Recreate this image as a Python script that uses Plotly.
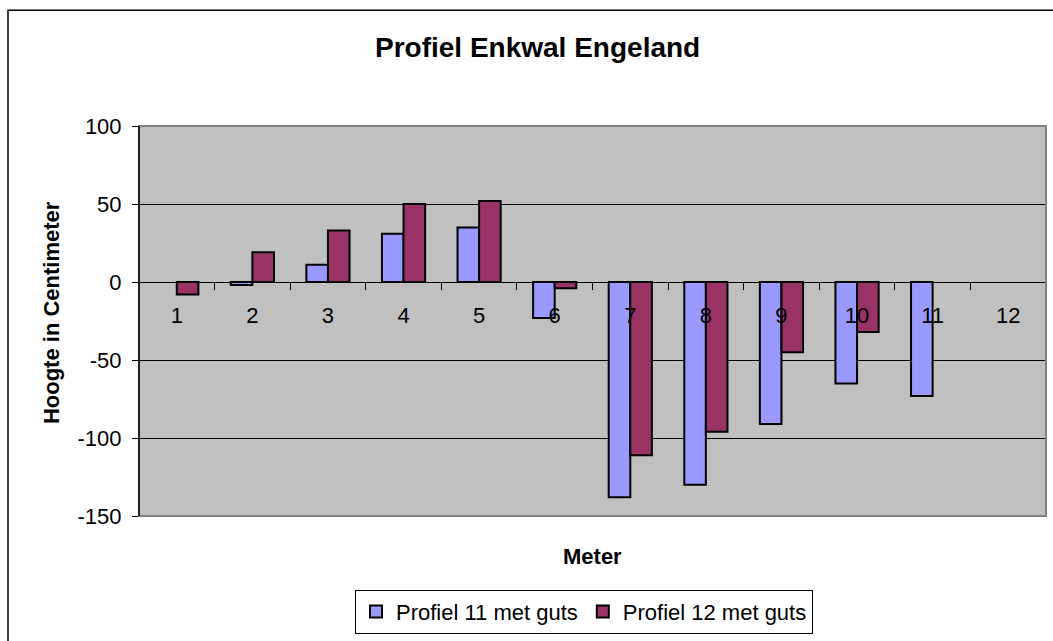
import plotly.graph_objects as go

categories = ["1", "2", "3", "4", "5", "6", "7", "8", "9", "10", "11", "12"]
profiel_11 = [None, -2, 11, 31, 35, -23, -138, -130, -91, -65, -73, None]
profiel_12 = [-8, 19, 33, 50, 52, -4, -111, -96, -45, -32, None, None]
y_ticks = [-150, -100, -50, 0, 50, 100]
y_tick_labels = ["-150", "-100", "-50", "0", "50", "100"]

W, H = 1053, 641
L, R, T, B = 139, 1046, 126, 520
FONT = "Liberation Sans, Arial, sans-serif"


def px(x):
    return (x - L) / (R - L)


def py(y):
    return (B - y) / (B - T)


fig = go.Figure()
fig.add_trace(go.Bar(
    x=categories, y=profiel_11, name="Profiel 11 met guts",
    marker=dict(color="#9999FF", line=dict(color="black", width=2)),
))
fig.add_trace(go.Bar(
    x=categories, y=profiel_12, name="Profiel 12 met guts",
    marker=dict(color="#993366", line=dict(color="black", width=2)),
))

fig.update_layout(
    width=W, height=H,
    margin=dict(l=L, r=W - R, t=T, b=H - B),
    paper_bgcolor="white",
    plot_bgcolor="#C0C0C0",
    font=dict(family=FONT, size=22, color="black"),
    barmode="group",
    bargap=0.4286,
    bargroupgap=0,
    showlegend=True,
    legend=dict(
        orientation="h",
        x=px(355), y=py(639), xanchor="left", yanchor="bottom",
        bordercolor="black", borderwidth=1, bgcolor="white",
        font=dict(family=FONT, size=22),
        itemwidth=30,
    ),
    xaxis=dict(
        type="category",
        anchor="free", position=0.6,
        showline=True, linecolor="black", linewidth=1,
        ticks="outside", tickson="boundaries", ticklen=7, tickcolor="black",
        ticklabelstandoff=14,
        showgrid=False, zeroline=False,
        tickfont=dict(size=22),
    ),
    yaxis=dict(
        range=[-150, 100],
        tickvals=y_ticks,
        ticktext=y_tick_labels,
        ticks="outside", ticklen=6, tickcolor="black",
        ticklabelstandoff=6,
        showgrid=True, gridcolor="black", gridwidth=1,
        zeroline=False,
        showline=True, linecolor="black", linewidth=1,
        tickfont=dict(size=22),
    ),
    annotations=[
        dict(text="<b>Profiel Enkwal Engeland</b>", x=px(537), y=py(47),
             xref="paper", yref="paper", showarrow=False,
             xanchor="center", yanchor="middle", font=dict(size=28)),
        dict(text="<b>Meter</b>", x=px(592), y=py(561),
             xref="paper", yref="paper", showarrow=False,
             xanchor="center", yanchor="middle", font=dict(size=22)),
        dict(text="<b>Hoogte in Centimeter</b>", x=px(51), y=py(315),
             xref="paper", yref="paper", showarrow=False, textangle=-90,
             xanchor="center", yanchor="middle", font=dict(size=22)),
    ],
    shapes=[
        dict(type="rect", xref="paper", yref="paper", x0=0, x1=1, y0=0, y1=1,
             line=dict(color="#808080", width=2), layer="above"),
        dict(type="line", xref="paper", yref="paper", x0=0, x1=0, y0=0, y1=1,
             line=dict(color="black", width=1.5), layer="above"),
        dict(type="rect", xref="paper", yref="paper",
             x0=px(8), x1=px(1070), y0=py(9), y1=py(660),
             line=dict(color="black", width=1.5), layer="above"),
    ],
)

fig.write_html(
    "out.html",
    config={"displayModeBar": False},
    post_script="document.body.style.margin='0px';document.body.style.overflow='hidden';",
)
